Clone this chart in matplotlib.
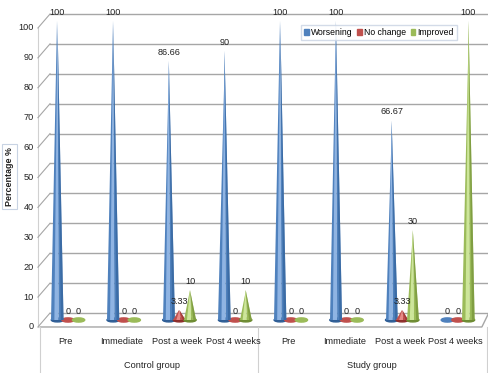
import numpy as np
import matplotlib.pyplot as plt
from matplotlib.patches import Polygon, Ellipse, Patch

plt.rcParams['font.family'] = ['Liberation Sans', 'DejaVu Sans']

categories = ['Pre', 'Immediate', 'Post a week', 'Post 4 weeks',
              'Pre', 'Immediate', 'Post a week', 'Post 4 weeks']
groups = ['Control group', 'Study group']
worsening = [100, 100, 86.66, 90, 100, 100, 66.67, 0]
no_change = [0, 0, 3.33, 0, 0, 0, 3.33, 0]
improved = [0, 0, 10, 10, 0, 0, 30, 100]
labels_w = ['100', '100', '86.66', '90', '100', '100', '66.67', '0']
labels_n = ['0', '0', '3.33', '0', '0', '0', '3.33', '0']
labels_i = ['0', '0', '10', '10', '0', '0', '30', '100']

series = [('Worsening', worsening, labels_w, '#4F81BD', '#8FB4E3', '#2F5E96'),
          ('No change', no_change, labels_n, '#C0504D', '#E88A87', '#8E2E2B'),
          ('Improved', improved, labels_i, '#9BBB59', '#CDE69A', '#6E8C33')]

fig = plt.figure(figsize=(4.88, 3.73), dpi=100)
ax = fig.add_axes([0, 0, 1, 1])
ax.set_xlim(-1.221, 7.54)
ax.set_ylim(-17.73, 107.02)
ax.axis('off')

depth = 2.34  # offset between back wall and front of the floor
grid_col = '#A6A6A6'
txt_col = '#222222'
fs = 6.6

# back wall grid, slanted connectors and tick labels
for v in range(0, 101, 10):
    ax.plot([-0.323, 7.54], [v + depth, v + depth], color=grid_col, lw=1.0, zorder=1)
    ax.plot([-0.54, -0.323], [v - depth, v + depth], color=grid_col, lw=0.8, zorder=1)
    ax.text(-0.62, v - depth, str(v), ha='right', va='center', fontsize=fs, color=txt_col)

# floor front edge and left axis line
ax.plot([-0.5, 7.43, 7.54], [-depth, -depth, depth - 0.5], color=grid_col, lw=1.0, zorder=1)
ax.plot([-0.54, -0.54], [-depth, 100 - depth], color='#D0D0D0', lw=0.8, zorder=0)

# category separators below the floor
for xs in [-0.5, 3.41, 7.53]:
    ax.plot([xs, xs], [-depth, -17.73], color='#D0D0D0', lw=0.8, zorder=1)

x = np.arange(len(categories))
offsets = [-0.19, 0.0, 0.19]
hw = 0.11

for (name, vals, labs, col, light, dark), off in zip(series, offsets):
    for xi, v, lab in zip(x, vals, labs):
        cx = xi + off
        if v > 0:
            ax.add_patch(Ellipse((cx, 0), 2 * hw, 1.3, color=dark, zorder=3))
            ax.add_patch(Polygon([(cx - hw, 0), (cx, 0), (cx, v)], closed=True,
                                 facecolor=col, edgecolor='none', zorder=4))
            ax.add_patch(Polygon([(cx - hw * 0.5, 0), (cx + hw * 0.2, 0), (cx, v)], closed=True,
                                 facecolor=light, edgecolor='none', zorder=4))
            ax.add_patch(Polygon([(cx + hw * 0.2, 0), (cx + hw, 0), (cx, v)], closed=True,
                                 facecolor=col, edgecolor='none', zorder=4))
            ax.add_patch(Polygon([(cx + hw * 0.55, 0), (cx + hw, 0), (cx, v)], closed=True,
                                 facecolor=dark, edgecolor='none', zorder=4, alpha=0.6))
        else:
            ax.add_patch(Ellipse((cx, 0), 2 * hw, 1.4, color=col, zorder=3))
        ax.annotate(lab, (cx, v), xytext=(0, 3), textcoords='offset points',
                    ha='center', va='bottom', fontsize=fs, color=txt_col, zorder=5)

# category and group labels
for xi, c in zip(x, categories):
    ax.text(xi - 0.04, -7.3, c, ha='center', va='center', fontsize=fs, color=txt_col)
ax.text(1.5, -15.3, groups[0], ha='center', va='center', fontsize=fs, color=txt_col)
ax.text(5.45, -15.3, groups[1], ha='center', va='center', fontsize=fs, color=txt_col)

# axis title in a small box
ax.text(-1.05, 48, 'Percentage %', rotation=90, ha='center', va='center',
        fontsize=6.4, fontweight='bold', color=txt_col,
        bbox=dict(boxstyle='square,pad=0.3', fc='white', ec='#C8D3E3', lw=0.8))

handles = [Patch(color=s[3], label=s[0]) for s in series]
fig.legend(handles=handles, loc='upper right', bbox_to_anchor=(0.945, 0.945), ncol=3,
           fontsize=6.2, frameon=True, handlelength=0.5, handleheight=0.6,
           handletextpad=0.3, columnspacing=0.5, borderpad=0.35, fancybox=False,
           edgecolor='#C8D3E3')

fig.savefig('out.png', dpi=100)
